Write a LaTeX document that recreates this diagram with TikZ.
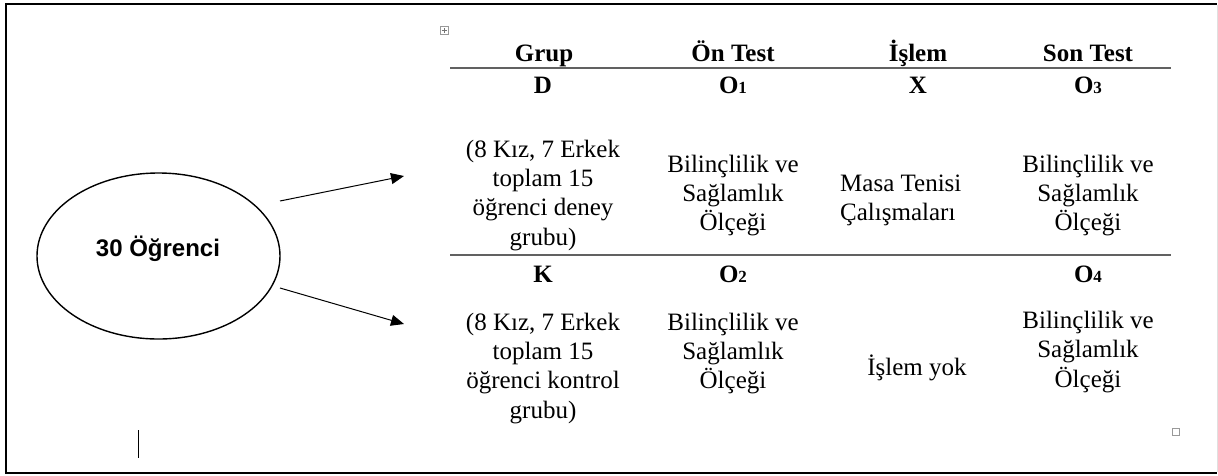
\documentclass[tikz,border=0pt]{standalone}
\usepackage{fontspec}
\setmainfont{Liberation Serif}
\newfontfamily\arialb{Liberation Sans}
\usetikzlibrary{arrows.meta,shapes.geometric}
\newcommand{\osub}[1]{O{\fontsize{17}{17}\selectfont #1}}
\begin{document}
\begin{tikzpicture}[x=1pt,y=-1pt,
  cell/.style={font=\fontsize{25}{29.3}\selectfont, align=center, inner sep=0pt, anchor=base},
  cellL/.style={font=\fontsize{25}{29.3}\selectfont, align=left, inner sep=0pt, anchor=base west},
  head/.style={font=\fontsize{25}{29.3}\selectfont\bfseries, inner sep=0pt, anchor=base},
  rulel/.style={draw=black!62, line width=1.6pt},
  frameline/.style={line width=2.2pt},
  arr/.style={line width=1pt, -{Triangle[length=13pt,width=11pt]}},
  tinybox/.style={draw=black!40, line width=0.6pt}]
\useasboundingbox (0,0) rectangle (1218,475);
% frame
\draw[frameline] (6,473) -- (6,4) -- (1217,4);
\draw[frameline] (5,473) -- (1217,473);
\draw[black!12, line width=1pt] (1217,5) -- (1217,472);
% ellipse
\node[ellipse, draw, line width=1.4pt, minimum width=243pt, minimum height=166pt, inner sep=0pt] (grp) at (158.5,256) {};
\node[font=\arialb\fontsize{24}{28}\selectfont\bfseries, inner sep=0pt, anchor=base] (grptxt) at (158,256) {30 Öğrenci};
% arrows
\coordinate (a1s) at (280,201);
\coordinate (a1e) at (404,176);
\coordinate (a2s) at (280,288);
\coordinate (a2e) at (404,324);
\draw[arr] (a1s) -- (a1e);
\draw[arr] (a2s) -- (a2e);
% cursor
\coordinate (cur1) at (138,430);
\coordinate (cur2) at (138,458);
\draw[line width=1pt] (cur1) -- (cur2);
% table handle
\node[tinybox, minimum size=8pt, inner sep=0pt] (hnd) at (444,30.5) {};
\draw[black!55, line width=0.5pt] (441.5,30.5) -- (446.5,30.5) (444,28) -- (444,33);
% small box bottom right
\node[tinybox, minimum size=7pt, inner sep=0pt] (sbx) at (1175.5,431.5) {};
% header
\node[head] (hg) at (544,61) {Grup};
\node[head] (ho) at (733,61) {Ön Test};
\node[head] (hi) at (918,61) {İşlem};
\node[head] (hs) at (1088,61) {Son Test};
\coordinate (r1a) at (450,68);
\coordinate (r1b) at (1171,68);
\draw[rulel] (r1a) -- (r1b);
% row D
\node[head] (d) at (543,93) {D};
\node[head] (o1) at (733,93) {\osub{1}};
\node[head] (x) at (918,93) {X};
\node[head] (o3) at (1088,93) {\osub{3}};
\node[cell] (dg) at (543,245) {(8 Kız, 7 Erkek\\toplam 15\\öğrenci deney\\grubu)};
\node[cell] (d1) at (733,230.6) {Bilinçlilik ve\\Sağlamlık\\Ölçeği};
\node[cellL] (dx) at (840,220.3) {Masa Tenisi\\Çalışmaları};
\node[cell] (d3) at (1088,230.6) {Bilinçlilik ve\\Sağlamlık\\Ölçeği};
\coordinate (r2a) at (450,255);
\coordinate (r2b) at (1171,255);
\draw[rulel] (r2a) -- (r2b);
% row K
\node[head] (k) at (543,282) {K};
\node[head] (o2) at (733,282) {\osub{2}};
\node[head] (o4) at (1088,282) {\osub{4}};
\node[cell] (kg) at (543,418) {(8 Kız, 7 Erkek\\toplam 15\\öğrenci kontrol\\grubu)};
\node[cell] (k2) at (733,388.6) {Bilinçlilik ve\\Sağlamlık\\Ölçeği};
\node[cell] (kx) at (917,375) {İşlem yok};
\node[cell] (k4) at (1088,387) {Bilinçlilik ve\\Sağlamlık\\Ölçeği};
\end{tikzpicture}
\end{document}
